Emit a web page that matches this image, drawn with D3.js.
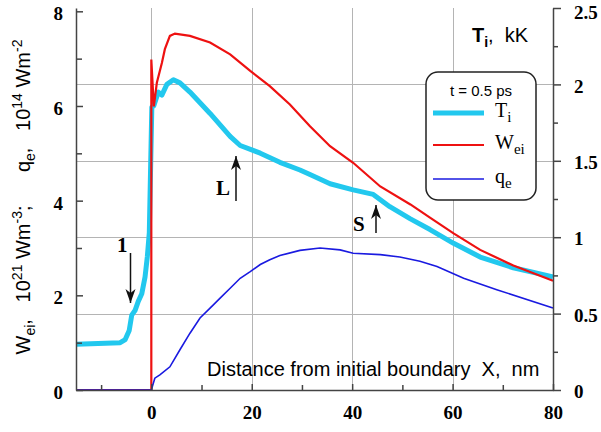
<!DOCTYPE html>
<html>
<head>
<meta charset="utf-8">
<script src="https://cdn.jsdelivr.net/npm/d3@7"></script>
<style>
  body { margin: 0; background: #fff; }
  svg { display: block; }
  .tick text { font-family: "Liberation Serif", "Times New Roman", serif; font-weight: bold; font-size: 19px; fill: #000; }
  .axis path, .axis line { stroke: #444; stroke-width: 1.5; }
  .sans { font-family: "Liberation Sans", Arial, sans-serif; }
  .serif { font-family: "Liberation Serif", "Times New Roman", serif; }
</style>
</head>
<body>
<div id="chart"></div>
<script>
// tick values
const xTicks = [0, 20, 40, 60, 80];
const xMinor = [-10, 10, 30, 50, 70];
const xGrid = [0, 20, 40, 60];
const leftTicks = [0, 2, 4, 6, 8];
const leftMinor = [1, 3, 5, 7];
const rightTicks = [0, 0.5, 1, 1.5, 2, 2.5];
const rightMinor = [0.25, 0.75, 1.25, 1.75, 2.25];
const rightGrid = [0.5, 1, 1.5, 2];

// T_i (kK, right axis)
const tiX = [-15, -6.2, -5.2, -4.4, -3.9, -3.25, -2.6, -1.9, -1.25, -0.8, -0.4, 0.1, 0.5, 1.4, 2.1, 3.1, 4.4, 5.7, 7.7, 11.7, 15.7, 17.7, 21.7, 25.6, 29.6, 31.6, 35.6, 40.2, 44.2, 47.5, 51.6, 55.5, 60.2, 65.5, 72.1, 80];
const tiY = [0.30, 0.31, 0.33, 0.39, 0.49, 0.52, 0.58, 0.63, 0.74, 0.87, 1.03, 1.85, 1.86, 1.95, 1.93, 2.00, 2.03, 2.01, 1.95, 1.81, 1.66, 1.60, 1.55, 1.49, 1.44, 1.41, 1.35, 1.31, 1.28, 1.20, 1.12, 1.05, 0.96, 0.87, 0.80, 0.74];

// W_ei (10^21 W/m3, left axis)
const weiX = [-15, 0, 0, 0.5, 1.1, 2.1, 2.7, 3.7, 4.7, 7.7, 11.7, 15.7, 19.7, 23.6, 27.6, 31.6, 35.6, 40.2, 45.6, 51.6, 55.5, 60.2, 65.5, 72.1, 80];
const weiY = [0, 0, 6.98, 5.99, 6.49, 6.91, 7.20, 7.48, 7.53, 7.48, 7.34, 7.09, 6.74, 6.42, 6.03, 5.57, 5.15, 4.80, 4.30, 3.92, 3.64, 3.31, 2.96, 2.63, 2.31];

// q_e (10^14 W/m2, left axis)
const qeX = [-15, 0, 0.7, 1.7, 3.7, 5.7, 7.7, 9.7, 11.7, 13.7, 15.7, 17.7, 19.7, 21.7, 23.6, 25.6, 29.6, 33.6, 37.6, 40.2, 45.6, 49.5, 53.5, 56.9, 62.2, 68.8, 80];
const qeY = [0, 0, 0.25, 0.32, 0.49, 0.85, 1.20, 1.52, 1.73, 1.94, 2.15, 2.36, 2.50, 2.65, 2.75, 2.84, 2.95, 3.00, 2.96, 2.89, 2.86, 2.81, 2.72, 2.61, 2.36, 2.12, 1.73];

const W = 601, H = 432;
const svg = d3.select("#chart").append("svg")
    .attr("width", W)
    .attr("height", H);

const x = d3.scaleLinear().domain([-15, 80]).range([76, 553]);
const yL = d3.scaleLinear().domain([0, 8.07]).range([390, 8]);
const yR = d3.scaleLinear().domain([0, 2.5]).range([390, 8]);

// grid (snapped to the pixel grid so the thin lines stay crisp)
const crisp = v => Math.round(v) + 0.5;
const grid = svg.append("g");
xGrid.forEach(d => {
    grid.append("line")
        .attr("x1", crisp(x(d))).attr("x2", crisp(x(d)))
        .attr("y1", yR(2.5)).attr("y2", yR(0))
        .attr("stroke", "#b4b4b4").attr("stroke-width", 1);
});
rightGrid.forEach(d => {
    grid.append("line")
        .attr("x1", x(-15)).attr("x2", x(80))
        .attr("y1", crisp(yR(d))).attr("y2", crisp(yR(d)))
        .attr("stroke", "#b4b4b4").attr("stroke-width", 1);
});

// curves
const path = (xs, ys, sy) => d3.line()
    .x((d, i) => x(xs[i]))
    .y((d, i) => sy(ys[i]))(xs);

svg.append("path")
    .attr("d", path(tiX, tiY, yR))
    .attr("fill", "none")
    .attr("stroke", "#22c8ee")
    .attr("stroke-width", 5)
    .attr("stroke-linejoin", "round");

svg.append("path")
    .attr("d", path(weiX, weiY, yL))
    .attr("fill", "none")
    .attr("stroke", "#ee1111")
    .attr("stroke-width", 2.2);

svg.append("path")
    .attr("d", path(qeX, qeY, yL))
    .attr("fill", "none")
    .attr("stroke", "#1a1ae0")
    .attr("stroke-width", 1.6);

// axes
svg.append("g").attr("class", "axis")
    .attr("transform", "translate(0,390)")
    .call(d3.axisBottom(x).tickValues(xTicks).tickSize(-6).tickSizeOuter(0).tickPadding(16).tickFormat(d3.format("d")));
svg.append("g").attr("class", "axis")
    .attr("transform", "translate(0,390)")
    .call(d3.axisBottom(x).tickValues(xMinor).tickSize(-5).tickSizeOuter(0).tickFormat(""))
    .call(g => g.select(".domain").remove());

svg.append("g").attr("class", "axis")
    .attr("transform", "translate(76,0)")
    .call(d3.axisLeft(yL).tickValues(leftTicks).tickSize(-7).tickSizeOuter(0).tickPadding(13).tickFormat(d3.format("d")))
    .call(g => g.selectAll(".tick text").attr("dy", "0.45em"));
svg.append("g").attr("class", "axis")
    .attr("transform", "translate(76,0)")
    .call(d3.axisLeft(yL).tickValues(leftMinor).tickSize(-6).tickFormat(""))
    .call(g => g.select(".domain").remove());

svg.append("g").attr("class", "axis")
    .attr("transform", "translate(553,0)")
    .call(d3.axisRight(yR).tickValues(rightTicks).tickSize(8).tickSizeOuter(0).tickPadding(13).tickFormat(d => d))
    .call(g => g.selectAll(".tick text").attr("dy", d => d === 2.5 ? "0.55em" : "0.4em"));
svg.append("g").attr("class", "axis")
    .attr("transform", "translate(553,0)")
    .call(d3.axisRight(yR).tickValues(rightMinor).tickSize(5).tickFormat(""))
    .call(g => g.select(".domain").remove());

// y label (left, rotated)
const ylab = svg.append("text")
    .attr("class", "sans")
    .attr("transform", "translate(30,197) rotate(-90)")
    .attr("text-anchor", "middle")
    .attr("xml:space", "preserve")
    .style("white-space", "pre");
const parts = [
    ["W", 20, 0], ["ei", 14, 5], [",   10", 20, -5], ["21", 14, -8], [" Wm", 20, 8], ["-3", 14, -8],
    [";      q", 20, 8], ["e", 14, 5], [",   10", 20, -5], ["14", 14, -8], [" Wm", 20, 8], ["-2", 14, -8]
];
parts.forEach(p => ylab.append("tspan").attr("font-size", p[1]).attr("dy", p[2]).text(p[0]));

// x label
svg.append("text")
    .attr("class", "sans")
    .attr("x", 207).attr("y", 376)
    .attr("font-size", 20)
    .attr("xml:space", "preserve")
    .style("white-space", "pre")
    .text("Distance from initial boundary  X,  nm");

// right title
const title = svg.append("text")
    .attr("class", "sans")
    .attr("x", 472).attr("y", 42)
    .attr("font-size", 20)
    .attr("xml:space", "preserve")
    .style("white-space", "pre");
title.append("tspan").attr("font-weight", "bold").text("T");
title.append("tspan").attr("font-weight", "bold").attr("font-size", 14).attr("dy", 5).text("i");
title.append("tspan").attr("dy", -5).text(",  kK");

// legend
const leg = svg.append("g");
leg.append("rect")
    .attr("x", 426).attr("y", 72).attr("width", 110).attr("height", 128)
    .attr("rx", 12)
    .attr("fill", "#fff").attr("stroke", "#222").attr("stroke-width", 1.5);
leg.append("text").attr("class", "sans")
    .attr("x", 481).attr("y", 96).attr("text-anchor", "middle")
    .attr("font-size", 15).text("t = 0.5 ps");
const legItems = [
    { y: 113, color: "#22c8ee", w: 5, name: "T", sub: "i" },
    { y: 145, color: "#ee1111", w: 2.2, name: "W", sub: "ei" },
    { y: 179, color: "#1a1ae0", w: 1.6, name: "q", sub: "e" }
];
legItems.forEach(d => {
    leg.append("line")
        .attr("x1", 433).attr("x2", 484).attr("y1", d.y).attr("y2", d.y)
        .attr("stroke", d.color).attr("stroke-width", d.w);
    const t = leg.append("text").attr("class", "serif")
        .attr("x", 495).attr("y", d.y + 4).attr("font-size", 20);
    t.append("tspan").text(d.name);
    t.append("tspan").attr("font-size", 15).attr("dy", 5).text(d.sub);
});

// annotations: number / letter with an arrow
const arrow = (ax, y1, y2) => {
    svg.append("line")
        .attr("x1", ax).attr("x2", ax).attr("y1", y1).attr("y2", y2)
        .attr("stroke", "#111").attr("stroke-width", 1.5);
    const dir = y2 > y1 ? -1 : 1;
    svg.append("path")
        .attr("d", `M${ax},${y2} L${ax - 5},${y2 + dir * 14} L${ax},${y2 + dir * 10} L${ax + 5},${y2 + dir * 14} Z`)
        .attr("fill", "#111");
};
const notes = [
    { label: "1", tx: 117, ty: 252, ax: 130.5, y1: 253, y2: 303 },
    { label: "L", tx: 216, ty: 195, ax: 236, y1: 201, y2: 156 },
    { label: "S", tx: 353, ty: 231, ax: 376, y1: 233, y2: 205 }
];
notes.forEach(n => {
    svg.append("text").attr("class", "serif")
        .attr("x", n.tx).attr("y", n.ty)
        .attr("font-size", 21).attr("font-weight", "bold")
        .text(n.label);
    arrow(n.ax, n.y1, n.y2);
});
</script>
</body>
</html>
